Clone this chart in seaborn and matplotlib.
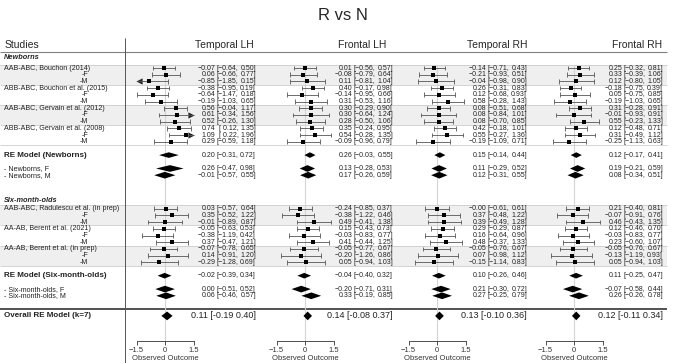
import numpy as np
import pandas as pd
import matplotlib
matplotlib.use("Agg")
import matplotlib.pyplot as plt
import seaborn as sns

regions = ["Temporal LH", "Frontal LH", "Temporal RH", "Frontal RH"]

newborn_studies = ["AAB-ABC, Bouchon (2014)", "ABB-ABC, Bouchon et al. (2015)",
                   "AAB-ABC, Gervain et al. (2012)", "ABB-ABC, Gervain et al. (2008)"]
sixmonth_studies = ["AAB-ABC, Radulescu et al. (in prep)", "AA-AB, Berent et al. (2021)",
                    "AA-AB, Berent et al. (in prep)"]
summary_labels = ["RE Model (Newborns)", "- Newborns, F", "- Newborns, M",
                  "RE Model (Six-month-olds)", "- Six-month-olds, F", "- Six-month-olds, M",
                  "Overall RE Model (k=7)"]

# study rows: each study then its -F and -M rows (newborns first, then six-month-olds)
tlh_est = [-0.07, 0.06, -0.85, -0.38, -0.64, -0.19, 0.56, 0.61, 0.52, 0.74, 1.09, 0.29,
           0.03, 0.35, -0.01, -0.05, -0.38, 0.37, -0.07, 0.14, -0.29]
tlh_lo = [-0.64, -0.66, -1.85, -0.95, -1.47, -1.03, -0.04, -0.34, -0.26, 0.12, 0.22, -0.59,
          -0.57, -0.52, -0.89, -0.63, -1.19, -0.47, -0.78, -0.91, -1.28]
tlh_hi = [0.50, 0.77, 0.15, 0.19, 0.18, 0.65, 1.17, 1.56, 1.30, 1.35, 1.96, 1.18,
          0.64, 1.22, 0.87, 0.53, 0.42, 1.21, 0.65, 1.20, 0.69]

flh_est = [0.01, -0.08, 0.11, 0.40, -0.14, 0.31, 0.30, 0.30, 0.28, 0.35, 0.54, -0.09,
           -0.24, -0.38, 0.49, 0.15, -0.03, 0.41, -0.05, -0.20, 0.05]
flh_lo = [-0.56, -0.79, -0.81, -0.17, -0.95, -0.53, -0.29, -0.64, -0.50, -0.24, -0.28, -0.96,
          -0.85, -1.22, -0.41, -0.43, -0.83, -0.44, -0.77, -1.26, -0.94]
flh_hi = [0.57, 0.64, 1.04, 0.98, 0.66, 1.16, 0.90, 1.24, 1.06, 0.95, 1.35, 0.79,
          0.37, 0.46, 1.38, 0.73, 0.77, 1.25, 0.67, 0.86, 1.03]

trh_est = [-0.14, -0.21, -0.04, 0.26, 0.12, 0.58, 0.08, 0.08, 0.08, 0.42, 0.55, -0.19,
           -0.00, 0.37, 0.39, 0.29, 0.16, 0.48, -0.05, 0.07, -0.15]
trh_lo = [-0.71, -0.93, -0.98, -0.31, -0.68, -0.28, -0.51, -0.84, -0.70, -0.18, -0.27, -1.09,
          -0.61, -0.48, -0.49, -0.29, -0.64, -0.37, -0.76, -0.98, -1.14]
trh_hi = [0.43, 0.51, 0.90, 0.83, 0.93, 1.43, 0.68, 1.01, 0.85, 1.01, 1.36, 0.71,
          0.61, 1.22, 1.28, 0.87, 0.96, 1.33, 0.67, 1.12, 0.83]

frh_est = [0.25, 0.33, 0.12, -0.18, 0.05, -0.19, 0.31, -0.01, 0.55, 0.12, 0.31, -0.25,
           0.21, -0.07, 0.46, 0.12, -0.03, 0.23, -0.05, -0.13, 0.05]
frh_lo = [-0.32, -0.39, -0.80, -0.75, -0.75, -1.03, -0.28, -0.93, -0.23, -0.48, -0.49, -1.13,
          -0.40, -0.91, -0.43, -0.46, -0.83, -0.60, -0.76, -1.19, -0.94]
frh_hi = [0.81, 1.06, 1.05, 0.39, 0.85, 0.65, 0.91, 0.91, 1.33, 0.71, 1.12, 0.63,
          0.81, 0.76, 1.35, 0.70, 0.77, 1.07, 0.67, 0.93, 1.03]

# summary rows: RE newborns, F, M, RE six-month-olds, F, M, overall
tlh_sum_est = [0.20, 0.26, -0.01, -0.02, 0.00, 0.06, 0.11]
tlh_sum_lo = [-0.31, -0.47, -0.57, -0.39, -0.51, -0.46, -0.19]
tlh_sum_hi = [0.72, 0.98, 0.55, 0.34, 0.52, 0.57, 0.40]

flh_sum_est = [0.26, 0.13, 0.17, -0.04, -0.20, 0.33, 0.14]
flh_sum_lo = [-0.03, -0.28, -0.26, -0.40, -0.71, -0.19, -0.08]
flh_sum_hi = [0.55, 0.53, 0.59, 0.32, 0.31, 0.85, 0.37]

trh_sum_est = [0.15, 0.11, 0.12, 0.10, 0.21, 0.27, 0.13]
trh_sum_lo = [-0.14, -0.29, -0.31, -0.26, -0.30, -0.25, -0.10]
trh_sum_hi = [0.44, 0.52, 0.55, 0.46, 0.72, 0.79, 0.36]

frh_sum_est = [0.12, 0.19, 0.08, 0.11, -0.07, 0.26, 0.12]
frh_sum_lo = [-0.17, -0.21, -0.34, -0.25, -0.58, -0.26, -0.11]
frh_sum_hi = [0.41, 0.59, 0.51, 0.47, 0.44, 0.78, 0.34]

tick_labels = ["\u22121.5", "0", "1.5"]

panels = [
    (tlh_est, tlh_lo, tlh_hi, tlh_sum_est, tlh_sum_lo, tlh_sum_hi),
    (flh_est, flh_lo, flh_hi, flh_sum_est, flh_sum_lo, flh_sum_hi),
    (trh_est, trh_lo, trh_hi, trh_sum_est, trh_sum_lo, trh_sum_hi),
    (frh_est, frh_lo, frh_hi, frh_sum_est, frh_sum_lo, frh_sum_hi),
]


def f2(v):
    return f"{v:.2f}".replace("-", "\u2212")


sns.set_style("white")
plt.rcParams["font.family"] = ["Liberation Sans", "DejaVu Sans"]

W, H = 685, 363
TOP, STEP = 68, 6.7          # pixel of first study row, pixels per row
fig = plt.figure(figsize=(W / 100, H / 100), dpi=100)

# rows (top to bottom)
study_rows = np.r_[np.arange(12), np.arange(21, 30)]
sum_rows = np.array([13, 15, 16, 31, 33, 34, 37])
alim = 1.5

# background: labels, bands, rules
bg = fig.add_axes([0, 0, 1, 1])
bg.set_xlim(0, W)
bg.set_ylim((H - TOP) / STEP, -TOP / STEP)
bg.axis("off")
RIGHT = 667
for r in [0, 6, 21, 27]:
    bg.fill_between([0, RIGHT], r - 0.5, r + 2.5, color="#efefef", lw=0, zorder=0)
for r in [-0.5, 2.5, 5.5, 8.5, 11.5, 20.5, 23.5, 26.5, 29.5]:
    bg.hlines(r, 0, RIGHT, color="#c4c4c4", lw=0.5, zorder=1)
bg.hlines(-2.4, 0, RIGHT, color="#808080", lw=0.8)
bg.hlines(36, 0, RIGHT, color="#333333", lw=1.2)
bg.vlines(125, -4.5, (H - TOP) / STEP, color="#555555", lw=0.7)

bg.text(5, -3.4, "Studies", fontsize=7.5, ha="left", va="center")
for name, cx in zip(regions, [224, 362, 497, 637]):
    bg.text(cx, -3.4, name, fontsize=7.5, ha="center", va="center")

bg.text(4, -1.5, "Newborns", fontsize=5.3, weight="bold", style="italic", va="center")
bg.text(4, 19.8, "Six-month-olds", fontsize=5.3, weight="bold", style="italic", va="center")
for i, name in enumerate(newborn_studies + sixmonth_studies):
    r = study_rows[3 * i]
    bg.text(4, r, name, fontsize=5.1, va="center", color="#222222")
    bg.text(88, r + 1, "-F", fontsize=5.1, va="center", ha="right", color="#222222")
    bg.text(88, r + 2, "-M", fontsize=5.1, va="center", ha="right", color="#222222")
for lab, r in zip(summary_labels, sum_rows):
    bold = lab.startswith("RE") or lab.startswith("Overall")
    bg.text(4, r, lab, fontsize=5.8 if bold else 5.1, va="center",
            weight="bold" if bold else "normal", color="#222222")

fig.text(0.5, 1 - 15 / H, "R vs N", fontsize=12, ha="center", va="center")

# forest panels
z_px = [165, 305, 437, 574]
r_px = [256, 393, 527, 663]
scale = 19.0
xmin, xmax = -2.0, 5.0
half = [0.42, 0.5, 0.5, 0.42, 0.5, 0.5, 0.65]

for k, (est, lo, hi, s_est, s_lo, s_hi) in enumerate(panels):
    left = (z_px[k] + xmin * scale) / W
    ax = fig.add_axes([left, 22 / H, (xmax - xmin) * scale / W, 341 / H])
    ax.patch.set_alpha(0)

    df = pd.DataFrame({"row": study_rows, "est": est, "lo": lo, "hi": hi})
    df["lo_c"] = df["lo"].clip(-alim, alim)
    df["hi_c"] = df["hi"].clip(-alim, alim)

    ax.vlines(0, -0.5, 40.75, color="#d4d4d4", lw=0.8, zorder=0)
    ax.hlines(df["row"], df["lo_c"], df["hi_c"], color="#555555", lw=0.6)
    cap_lo = df[df["lo"] >= -alim]
    cap_hi = df[df["hi"] <= alim]
    ax.vlines(cap_lo["lo"], cap_lo["row"] - 0.35, cap_lo["row"] + 0.35, color="#555555", lw=0.6)
    ax.vlines(cap_hi["hi"], cap_hi["row"] - 0.35, cap_hi["row"] + 0.35, color="#555555", lw=0.6)
    out_lo = df[df["lo"] < -alim]
    out_hi = df[df["hi"] > alim]
    ax.scatter(out_lo["lo_c"] + 0.12, out_lo["row"], marker="<", s=20, color="#222222", lw=0)
    ax.scatter(out_hi["hi_c"] - 0.12, out_hi["row"], marker=">", s=20, color="#222222", lw=0)
    sns.scatterplot(data=df, x="est", y="row", marker="s", color="black", s=7,
                    linewidth=0, ax=ax, zorder=3)

    for e, l, h, r, hh in zip(s_est, s_lo, s_hi, sum_rows, half):
        ax.fill([l, e, h, e], [r, r - hh, r, r + hh], color="black", lw=0)

    # annotations
    xr = (r_px[k] - z_px[k]) / scale
    for e, l, h, r in zip(list(est) + s_est[:6], list(lo) + s_lo[:6],
                          list(hi) + s_hi[:6], list(study_rows) + list(sum_rows[:6])):
        lo_txt = "[" + (" " if l >= 0 else "") + f2(l) + ","
        ax.text(xr - 40.7 / scale, r, f2(e), fontsize=5, ha="right", va="center", color="#222222")
        ax.text(xr - 17.4 / scale, r, lo_txt, fontsize=5, ha="right", va="center", color="#222222")
        ax.text(xr, r, f2(h) + "]", fontsize=5, ha="right", va="center", color="#222222")
    overall = f"{s_est[6]:.2f} [{s_lo[6]:.2f} {s_hi[6]:.2f}]"
    ax.text(xr, sum_rows[6], overall, fontsize=6.5, ha="right", va="center", color="#222222")

    ax.set_xlim(xmin, xmax)
    ax.set_ylim(273 / STEP, -TOP / STEP)
    sns.despine(ax=ax, left=True)
    ax.spines["bottom"].set_bounds(-alim, alim)
    ax.spines["bottom"].set_linewidth(0.6)
    ax.spines["bottom"].set_color("#333333")
    ax.set_yticks([])
    ax.set_ylabel("")
    ax.set_xticks([-alim, 0, alim])
    ax.set_xticklabels(tick_labels)
    ax.tick_params(axis="x", length=3, width=0.6, labelsize=5.5, pad=1.5,
                   colors="#333333", bottom=True)
    ax.set_xlabel("Observed Outcome", fontsize=5.5, color="#333333")
    ax.xaxis.set_label_coords((0 - xmin) / (xmax - xmin), -0.041)

fig.savefig("out.png", dpi=100)
